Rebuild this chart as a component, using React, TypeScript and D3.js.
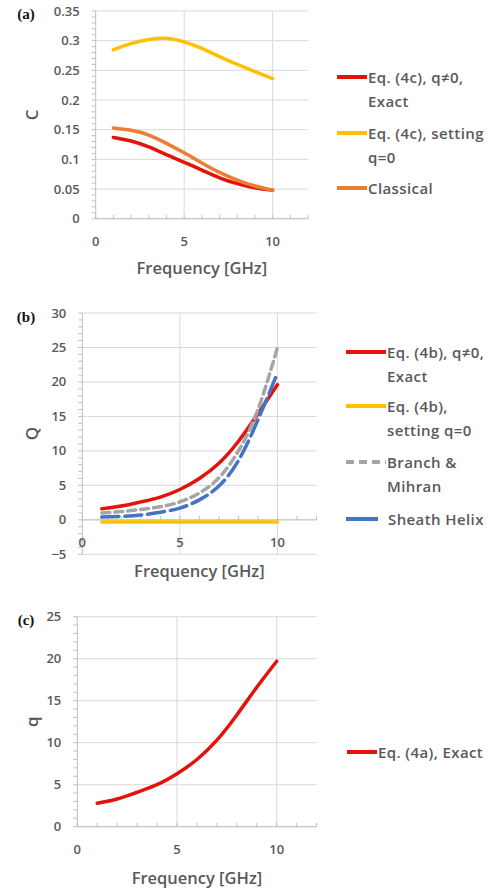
import React from "react";
import * as d3 from "d3";

// frequency points [GHz]
const freq = [1, 2, 3, 4, 5, 6, 7, 8, 9, 10];

// (a) coupling C
const cExact = [0.137, 0.131, 0.121, 0.108, 0.095, 0.082, 0.069, 0.059, 0.052, 0.048];
const cSettingQ0 = [0.285, 0.295, 0.302, 0.304, 0.298, 0.287, 0.273, 0.26, 0.248, 0.236];
const cClassical = [0.153, 0.149, 0.141, 0.127, 0.111, 0.094, 0.078, 0.065, 0.055, 0.048];

// (b) Q
const bigQExact = [1.6, 2.0, 2.6, 3.3, 4.4, 6.0, 8.2, 11.4, 15.4, 19.6];
const bigQSettingQ0 = [-0.3, -0.3, -0.3, -0.3, -0.3, -0.3, -0.3, -0.3, -0.3, -0.3];
const bigQBranch = [1.0, 1.2, 1.5, 1.9, 2.6, 3.9, 6.1, 10.0, 16.0, 25.0];
const bigQSheath = [0.4, 0.5, 0.7, 1.1, 1.7, 2.9, 4.9, 8.6, 14.5, 21.3];

// (c) q
const qExact = [2.8, 3.3, 4.1, 5.0, 6.3, 8.0, 10.3, 13.3, 16.6, 19.7];

const xTicks = [0, 5, 10];
const yTicksA = [0, 0.05, 0.1, 0.15, 0.2, 0.25, 0.3, 0.35];
const yTicksB = [-5, 0, 5, 10, 15, 20, 25, 30];
const yTicksC = [0, 5, 10, 15, 20, 25];

const RED = "#e3120b";
const YELLOW = "#ffc000";
const ORANGE = "#ed7d31";
const GRAY = "#a5a5a5";
const BLUE = "#4472c4";
const TEXT = "#595959";
const FONT = "'Open Sans', Lato, sans-serif";

type Series = {
  values: number[];
  color: string;
  dash?: string;
  legendDash?: string;
  legendEnd?: number;
  textX?: number;
  label: string[];
  legendY: number;
};

type PanelProps = {
  tag: string;
  tagY: number;
  left: number;
  right: number;
  top: number;
  bottom: number;
  yDomain: [number, number];
  yTicks: number[];
  yMinor: number;
  yLabel: string;
  titleY: number;
  series: Series[];
  legendX0: number;
  legendX1: number;
};

const Panel = (p: PanelProps) => {
  const x = d3.scaleLinear().domain([0, 12]).range([p.left, p.right]);
  const y = d3.scaleLinear().domain(p.yDomain).range([p.bottom, p.top]);
  const line = d3
    .line<number>()
    .x((_, i) => x(freq[i]))
    .y((d) => y(d))
    .curve(d3.curveNatural);

  const axisY = y(0);
  const minorY = d3.range(p.yDomain[0], p.yDomain[1] + 1e-9, p.yMinor);
  const minorX = d3.range(0, 12.001, 1);

  return (
    <g>
      <text x={26} y={p.tagY} textAnchor="middle" fontFamily="'Liberation Serif', serif" fontWeight="bold" fontSize={15} fill="#111">
        {p.tag}
      </text>
      {/* gridlines */}
      {p.yTicks.map((t) => (
        <line key={"gy" + t} x1={p.left} x2={p.right} y1={y(t)} y2={y(t)} stroke="#d9d9d9" strokeWidth={1} />
      ))}
      {xTicks.filter((t) => t > 0).map((t) => (
        <line key={"gx" + t} x1={x(t)} x2={x(t)} y1={p.top} y2={p.bottom} stroke="#d9d9d9" strokeWidth={1} />
      ))}
      {/* axes */}
      <line x1={p.left} x2={p.left} y1={p.top} y2={p.bottom} stroke="#bfbfbf" />
      <line x1={p.left} x2={p.right} y1={axisY} y2={axisY} stroke="#bfbfbf" />
      {minorY.map((t, i) => (
        <line key={"my" + i} x1={p.left - 4} x2={p.left} y1={y(t)} y2={y(t)} stroke="#bfbfbf" />
      ))}
      {minorX.map((t, i) => (
        <line key={"mx" + i} x1={x(t)} x2={x(t)} y1={axisY - 4} y2={axisY} stroke="#bfbfbf" />
      ))}
      {/* tick labels */}
      {p.yTicks.map((t) => (
        <text key={"ty" + t} x={p.left - 16} y={y(t) + 4.5} textAnchor="end" fontFamily={FONT} fontWeight={600} fontSize={13} fill={TEXT}>
          {d3.format("~g")(t)}
        </text>
      ))}
      {xTicks.map((t) => (
        <text key={"tx" + t} x={x(t)} y={axisY + 27} textAnchor="middle" fontFamily={FONT} fontWeight={600} fontSize={13} fill={TEXT}>
          {t}
        </text>
      ))}
      {/* axis titles */}
      <text x={(p.left + p.right) / 2} y={p.titleY} textAnchor="middle" fontFamily={FONT} fontWeight={600} fontSize={16.5} fill={TEXT}>
        Frequency [GHz]
      </text>
      <text
        transform={`translate(38,${(p.top + p.bottom) / 2}) rotate(-90)`}
        textAnchor="middle"
        fontFamily={FONT}
        fontWeight={600}
        fontSize={17}
        fill={TEXT}
      >
        {p.yLabel}
      </text>
      {/* curves */}
      {p.series.map((s, i) => (
        <path
          key={"s" + i}
          d={line(s.values) || ""}
          fill="none"
          stroke={s.color}
          strokeWidth={3.5}
          strokeDasharray={s.dash}
          strokeLinecap="round"
        />
      ))}
      {/* legend */}
      {p.series.map((s, i) => (
        <g key={"l" + i}>
          <line
            x1={p.legendX0}
            x2={s.legendEnd ?? p.legendX1}
            y1={s.legendY}
            y2={s.legendY}
            stroke={s.color}
            strokeWidth={4}
            strokeDasharray={s.legendDash}
          />
          {s.label.map((t, j) => (
            <text
              key={j}
              x={s.textX ?? p.legendX1 + 1}
              y={s.legendY + 5.5 + j * 24.5}
              fontFamily={FONT}
              fontWeight={600}
              fontSize={15}
              letterSpacing={0.4}
              fill={TEXT}
            >
              {t}
            </text>
          ))}
        </g>
      ))}
    </g>
  );
};

const App = () => {
  return (
    <svg width={500} height={891} style={{ position: "absolute", left: 0, top: 0, background: "#fff" }}>
      <rect width={500} height={891} fill="#fff" />
      <Panel
        tag="(a)"
        tagY={19}
        left={95.7}
        right={308}
        top={11}
        bottom={218.7}
        yDomain={[0, 0.35]}
        yTicks={yTicksA}
        yMinor={0.01}
        yLabel="C"
        titleY={274}
        legendX0={337}
        legendX1={367}
        series={[
          { values: cExact, color: RED, label: ["Eq. (4c), q≠0,", "Exact"], legendY: 77 },
          { values: cSettingQ0, color: YELLOW, label: ["Eq. (4c), setting", "q=0"], legendY: 133 },
          { values: cClassical, color: ORANGE, label: ["Classical"], legendY: 188 },
        ]}
      />
      <Panel
        tag="(b)"
        tagY={322}
        left={82.3}
        right={316.5}
        top={313}
        bottom={554.3}
        yDomain={[-5, 30]}
        yTicks={yTicksB}
        yMinor={1}
        yLabel="Q"
        titleY={577}
        legendX0={346}
        legendX1={386}
        series={[
          { values: bigQExact, color: RED, label: ["Eq. (4b), q≠0,", "Exact"], legendY: 352 },
          { values: bigQSettingQ0, color: YELLOW, label: ["Eq. (4b),", "setting q=0"], legendY: 406 },
          { values: bigQBranch, color: GRAY, dash: "8,5", legendDash: "8,5", label: ["Branch &", "Mihran"], legendY: 462 },
          { values: bigQSheath, color: BLUE, dash: "17,6", legendEnd: 378, textX: 388, label: ["Sheath Helix"], legendY: 519 },
        ]}
      />
      <Panel
        tag="(c)"
        tagY={625}
        left={77.3}
        right={316.6}
        top={616.7}
        bottom={826.7}
        yDomain={[0, 25]}
        yTicks={yTicksC}
        yMinor={1}
        yLabel="q"
        titleY={884}
        legendX0={347}
        legendX1={377}
        series={[{ values: qExact, color: RED, label: ["Eq. (4a), Exact"], legendY: 752 }]}
      />
    </svg>
  );
};

export default App;
